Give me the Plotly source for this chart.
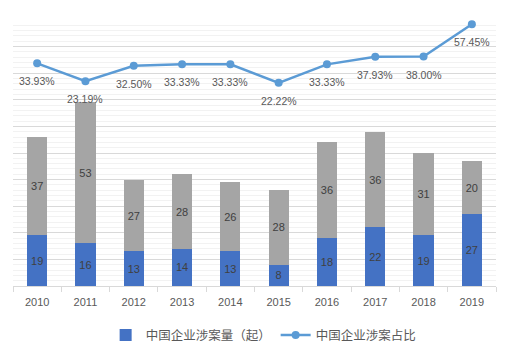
import plotly.graph_objects as go

years = ["2010", "2011", "2012", "2013", "2014", "2015", "2016", "2017", "2018", "2019"]
cases = [19, 16, 13, 14, 13, 8, 18, 22, 19, 27]
others = [37, 53, 27, 28, 26, 28, 36, 36, 31, 20]
share = [33.93, 23.19, 32.50, 33.33, 33.33, 22.22, 33.33, 37.93, 38.00, 57.45]

BLUE = "#4472C4"
GRAY = "#A5A5A5"
LINE = "#5B9BD5"
LBL = "#404040"
TXT = "#595959"

fig = go.Figure()
fig.add_trace(go.Bar(
    x=years, y=cases, name="中国企业涉案量（起）",
    marker=dict(color=BLUE, line=dict(width=0)),
    text=[str(v) for v in cases], textposition="inside", insidetextanchor="middle",
    textangle=0, textfont=dict(family="Liberation Sans", size=11, color=LBL),
))
fig.add_trace(go.Bar(
    x=years, y=others, name="其他", showlegend=False,
    marker=dict(color=GRAY, line=dict(width=0)),
    text=[str(v) for v in others], textposition="inside", insidetextanchor="middle",
    textangle=0, textfont=dict(family="Liberation Sans", size=11, color=LBL),
))
fig.add_trace(go.Scatter(
    x=years, y=share, name="中国企业涉案占比", yaxis="y2",
    mode="lines+markers",
    line=dict(color=LINE, width=2.5),
    marker=dict(color=LINE, size=8),
))
# category axis: annotations use the category index
for i, yv in enumerate(share):
    fig.add_annotation(
        x=i, y=yv, xref="x", yref="y2", text=f"{yv:.2f}%", showarrow=False,
        yshift=-18, font=dict(family="Liberation Sans", size=10.5, color=TXT),
    )

fig.update_layout(
    width=507, height=354,
    margin=dict(l=13, r=11, t=20, b=68),
    barmode="stack", bargap=0.58,
    plot_bgcolor="white", paper_bgcolor="white",
    font=dict(family="Liberation Sans", color=TXT),
    xaxis=dict(
        type="category", range=[-0.5, len(years) - 0.5],
        showline=True, linecolor="#D9D9D9", linewidth=1,
        ticks="outside", tickson="boundaries", ticklen=5, tickcolor="#D9D9D9",
        ticklabelstandoff=6,
        tickfont=dict(family="Liberation Sans", size=11, color=TXT),
        showgrid=False,
    ),
    yaxis=dict(
        range=[0, 100], dtick=10, showticklabels=False,
        showgrid=True, gridcolor="#D9D9D9", gridwidth=1, zeroline=False,
        minor=dict(dtick=2, showgrid=True, gridcolor="#F2F2F2", gridwidth=1),
    ),
    yaxis2=dict(
        range=[-100, 60], overlaying="y", side="right", visible=False,
        showgrid=False, zeroline=False,
    ),
    legend=dict(
        orientation="h", xref="container", yref="container",
        x=0.52, xanchor="center", y=0.095, yanchor="top",
        traceorder="normal",
        font=dict(family="Noto Sans CJK SC", size=12.5, color=TXT),
        itemwidth=30,
    ),
)

fig.write_html("out.html")
